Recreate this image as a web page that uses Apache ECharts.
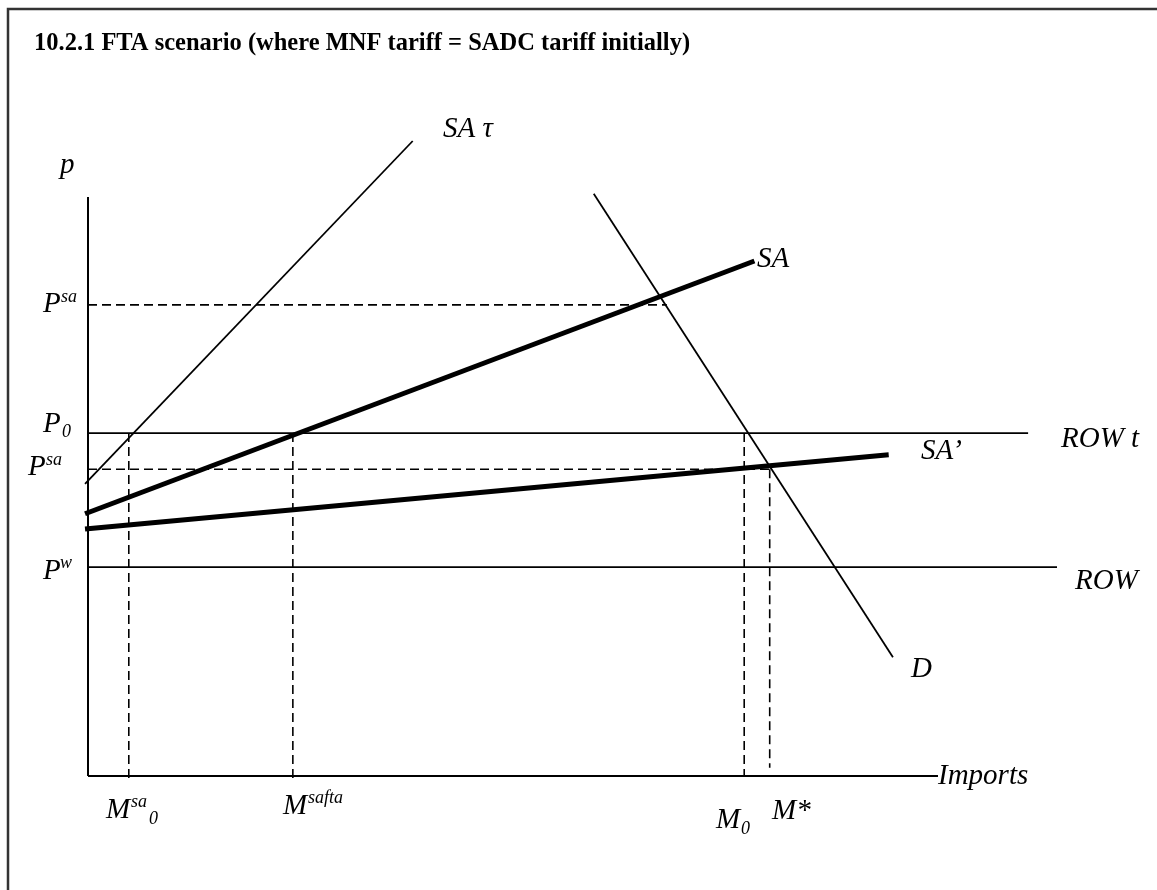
<!DOCTYPE html>
<html>
<head>
<meta charset="utf-8">
<script src="https://cdn.jsdelivr.net/npm/echarts@6/dist/echarts.min.js"></script>
<style>
html,body{margin:0;padding:0;background:#fff;}
#chart{width:1157px;height:890px;}
</style>
</head>
<body>
<div id="chart"></div>
<script>
// ---- data (model units) ----
var priceLevels = { pSaHigh: 74.2, p0: 54.0, pSaLow: 48.3, pW: 32.9 };
var quantities = { mSa0: 4.8, mSafta: 24.1, m0: 77.2, mStar: 80.2 };
var saTau   = [[-0.35, 46.0], [38.2, 100]];
var sa      = [[-0.35, 41.3], [78.4, 81.1]];
var saPrime = [[-0.35, 38.9], [94.2, 50.6]];
var demand  = [[59.5, 91.7], [94.7, 18.7]];
var yAxisLine = [[0, 0], [0, 91.2]];
var xAxisLine = [[0, 0], [100, 0]];
var pSaHighLine = [[0, 74.2], [68.1, 74.2]];
var p0Line      = [[0, 54.0], [110.6, 54.0]];
var pSaLowLine  = [[0, 48.3], [80.2, 48.3]];
var pWLine      = [[0, 32.9], [114, 32.9]];
var mSa0Line    = [[4.8, 54.0], [4.8, -1.1]];
var mSaftaLine  = [[24.1, 54.0], [24.1, -1.1]];
var m0Line      = [[77.2, 54.0], [77.2, 0]];
var mStarLine   = [[80.2, 48.3], [80.2, 1.3]];

var chart = echarts.init(document.getElementById('chart'));
function line(data, width, dashed, z) {
  return {
    type: 'line', data: data, symbol: 'none', silent: true, z: z || 2,
    lineStyle: { color: '#000', width: width, type: dashed ? [9, 5] : 'solid', cap: 'butt' },
    animation: false
  };
}
var F = '"Liberation Serif", "Times New Roman", serif';
function txt(t, x, y, size, opts) {
  opts = opts || {};
  return {
    type: 'text', x: x, y: y, silent: true,
    style: {
      text: t, fill: '#000',
      font: (opts.bold ? 'bold ' : 'italic ') + size + 'px ' + F,
      verticalAlign: 'middle', align: opts.align || 'left'
    }
  };
}
var B = 29, S = 18;
chart.setOption({
  animation: false,
  grid: { left: 79.5, right: 100, top: 141, bottom: 50.5 },
  xAxis: { type: 'value', min: -1, max: 114, show: false },
  yAxis: { type: 'value', min: -10, max: 100, show: false },
  series: [
    line(yAxisLine, 2),
    line(xAxisLine, 2),
    line(pSaHighLine, 1.6, true),
    line(p0Line, 1.8),
    line(pSaLowLine, 1.6, true),
    line(pWLine, 1.8),
    line(mSa0Line, 1.6, true),
    line(mSaftaLine, 1.6, true),
    line(m0Line, 1.6, true),
    line(mStarLine, 1.6, true),
    line(saTau, 1.8),
    line(demand, 1.8),
    line(sa, 5, false, 3),
    line(saPrime, 5, false, 3)
  ],
  graphic: [
    { type: 'rect', silent: true, shape: { x: 8, y: 9, width: 1300, height: 1000 },
      style: { fill: 'none', stroke: '#333', lineWidth: 2.5 } },
    txt('10.2.1 FTA scenario (where MNF tariff = SADC tariff initially)', 34, 44, 24.5, { bold: true }),
    txt('p', 60, 165, B),
    txt('SA \u03c4', 443, 129, B),
    txt('SA', 757, 259, B),
    txt('SA\u2019', 921, 451, B),
    txt('ROW t', 1061, 439, B),
    txt('ROW', 1075, 581, B),
    txt('D', 911, 669, B),
    txt('Imports', 938, 776, B),
    // y labels
    txt('P', 43, 304, B), txt('sa', 61, 297, S),
    txt('P', 43, 424, B), txt('0', 62, 432, S),
    txt('P', 28, 467, B), txt('sa', 46, 460, S),
    txt('P', 43, 571, B), txt('w', 60, 563, S),
    // x labels
    txt('M', 106, 810, B), txt('sa', 131, 802, S), txt('0', 149, 819, S),
    txt('M', 283, 806, B), txt('safta', 308, 798, S),
    txt('M', 716, 820, B), txt('0', 741, 829, S),
    txt('M*', 772, 811, B)
  ]
});
</script>
</body>
</html>
